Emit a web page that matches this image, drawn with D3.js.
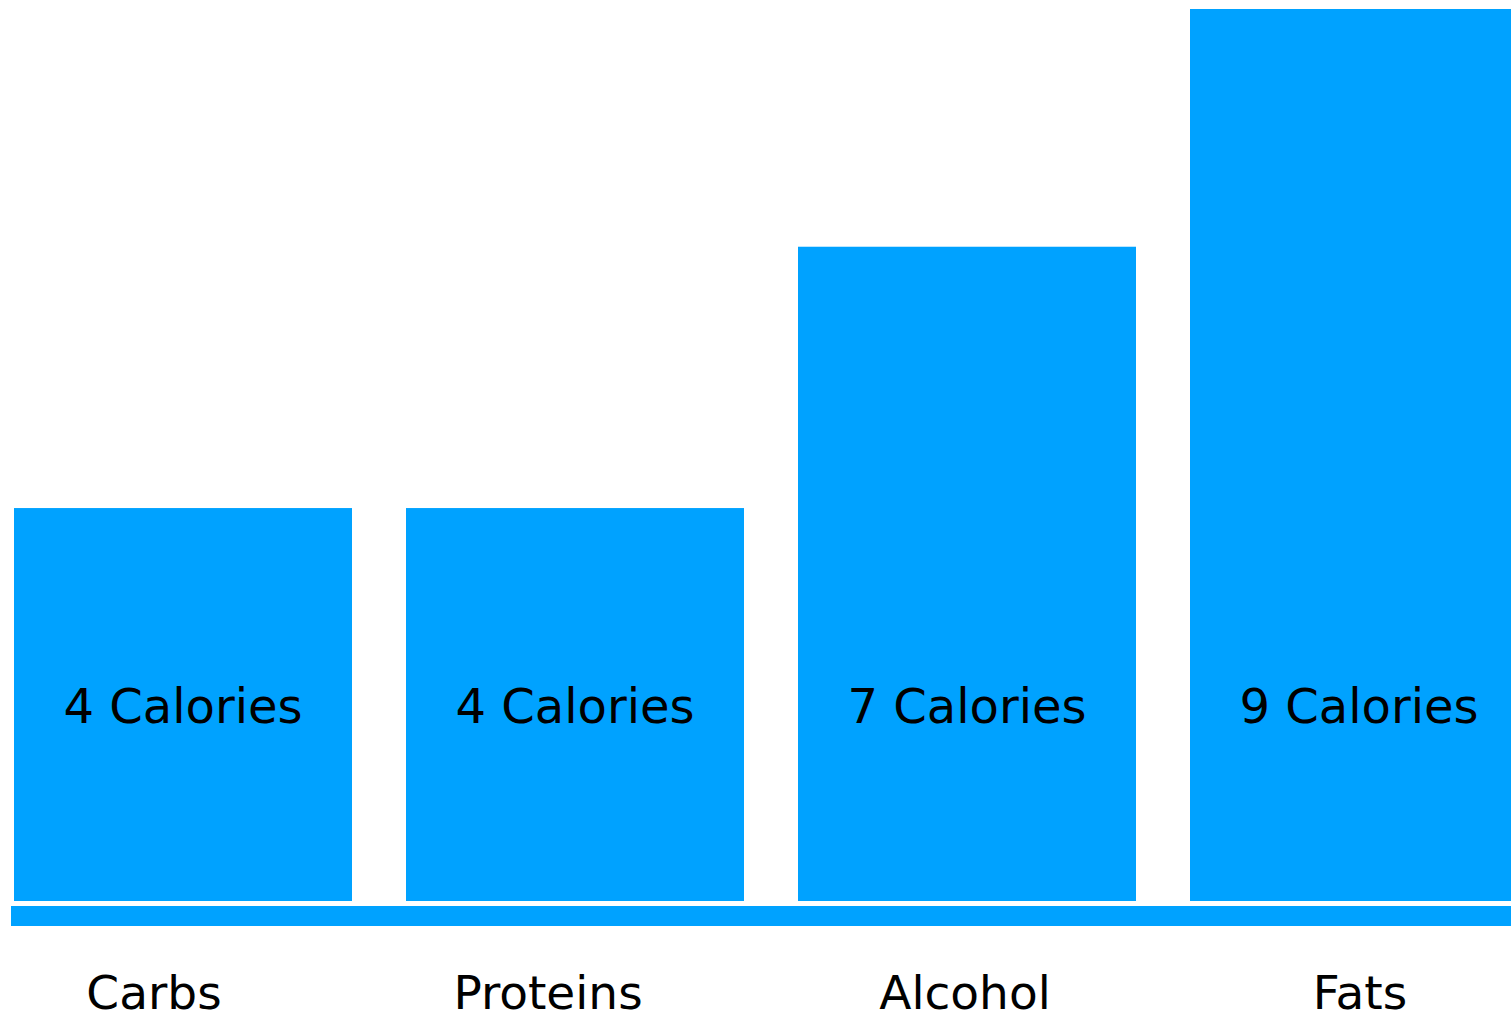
<!DOCTYPE html>
<html>
<head>
<meta charset="utf-8">
<script src="https://cdn.jsdelivr.net/npm/d3@7"></script>
<style>
  html, body { margin: 0; padding: 0; background: #ffffff; overflow: hidden; }
  svg { display: block; }
</style>
</head>
<body>
<svg id="chart" width="1511" height="1021"></svg>
<script>
// ---- data ----
const categories = ["Carbs", "Proteins", "Alcohol", "Fats"];
const calories = [4, 4, 7, 9];            // label values
const barValues = [4, 4, 6.66, 9.08];     // bar heights as drawn in the picture
const valueLabels = calories.map(c => c + " Calories");

// ---- layout ----
const W = 1511, H = 1021;
const barColor = "#00a2ff";
const baseY = 901;
// horizontal nudges of the category captions (layout, not data)
const captionNudge = { Carbs: -29, Proteins: -27, Alcohol: -2, Fats: 1 };

const svg = d3.select("#chart");

const x = d3.scaleBand()
  .domain(categories)
  .range([14, 1528])
  .paddingInner(54 / 392)
  .paddingOuter(0);

const y = d3.scaleLinear()
  .domain([0, 9.08])
  .range([baseY, 9]);

const rows = categories.map((c, i) => ({ cat: c, v: barValues[i], label: valueLabels[i] }));

// bars
svg.append("g").selectAll("rect")
  .data(rows)
  .join("rect")
  .attr("x", d => x(d.cat))
  .attr("y", d => y(d.v))
  .attr("width", x.bandwidth())
  .attr("height", d => y(0) - y(d.v))
  .attr("fill", barColor);

// baseline band (axis)
svg.append("rect")
  .attr("x", 11)
  .attr("y", baseY + 5)
  .attr("width", W - 11)
  .attr("height", 20)
  .attr("fill", barColor);

// value labels inside bars
svg.append("g").selectAll("text")
  .data(rows)
  .join("text")
  .attr("x", d => x(d.cat) + x.bandwidth() / 2)
  .attr("y", 723)
  .attr("text-anchor", "middle")
  .attr("font-family", "DejaVu Sans, sans-serif")
  .attr("font-size", 48)
  .attr("fill", "#000")
  .text(d => d.label);

// category labels
svg.append("g").selectAll("text")
  .data(rows)
  .join("text")
  .attr("x", d => x(d.cat) + x.bandwidth() / 2 + captionNudge[d.cat])
  .attr("y", 1009)
  .attr("text-anchor", "middle")
  .attr("font-family", "DejaVu Sans, sans-serif")
  .attr("font-size", 47)
  .attr("fill", "#000")
  .text(d => d.cat);
</script>
</body>
</html>
